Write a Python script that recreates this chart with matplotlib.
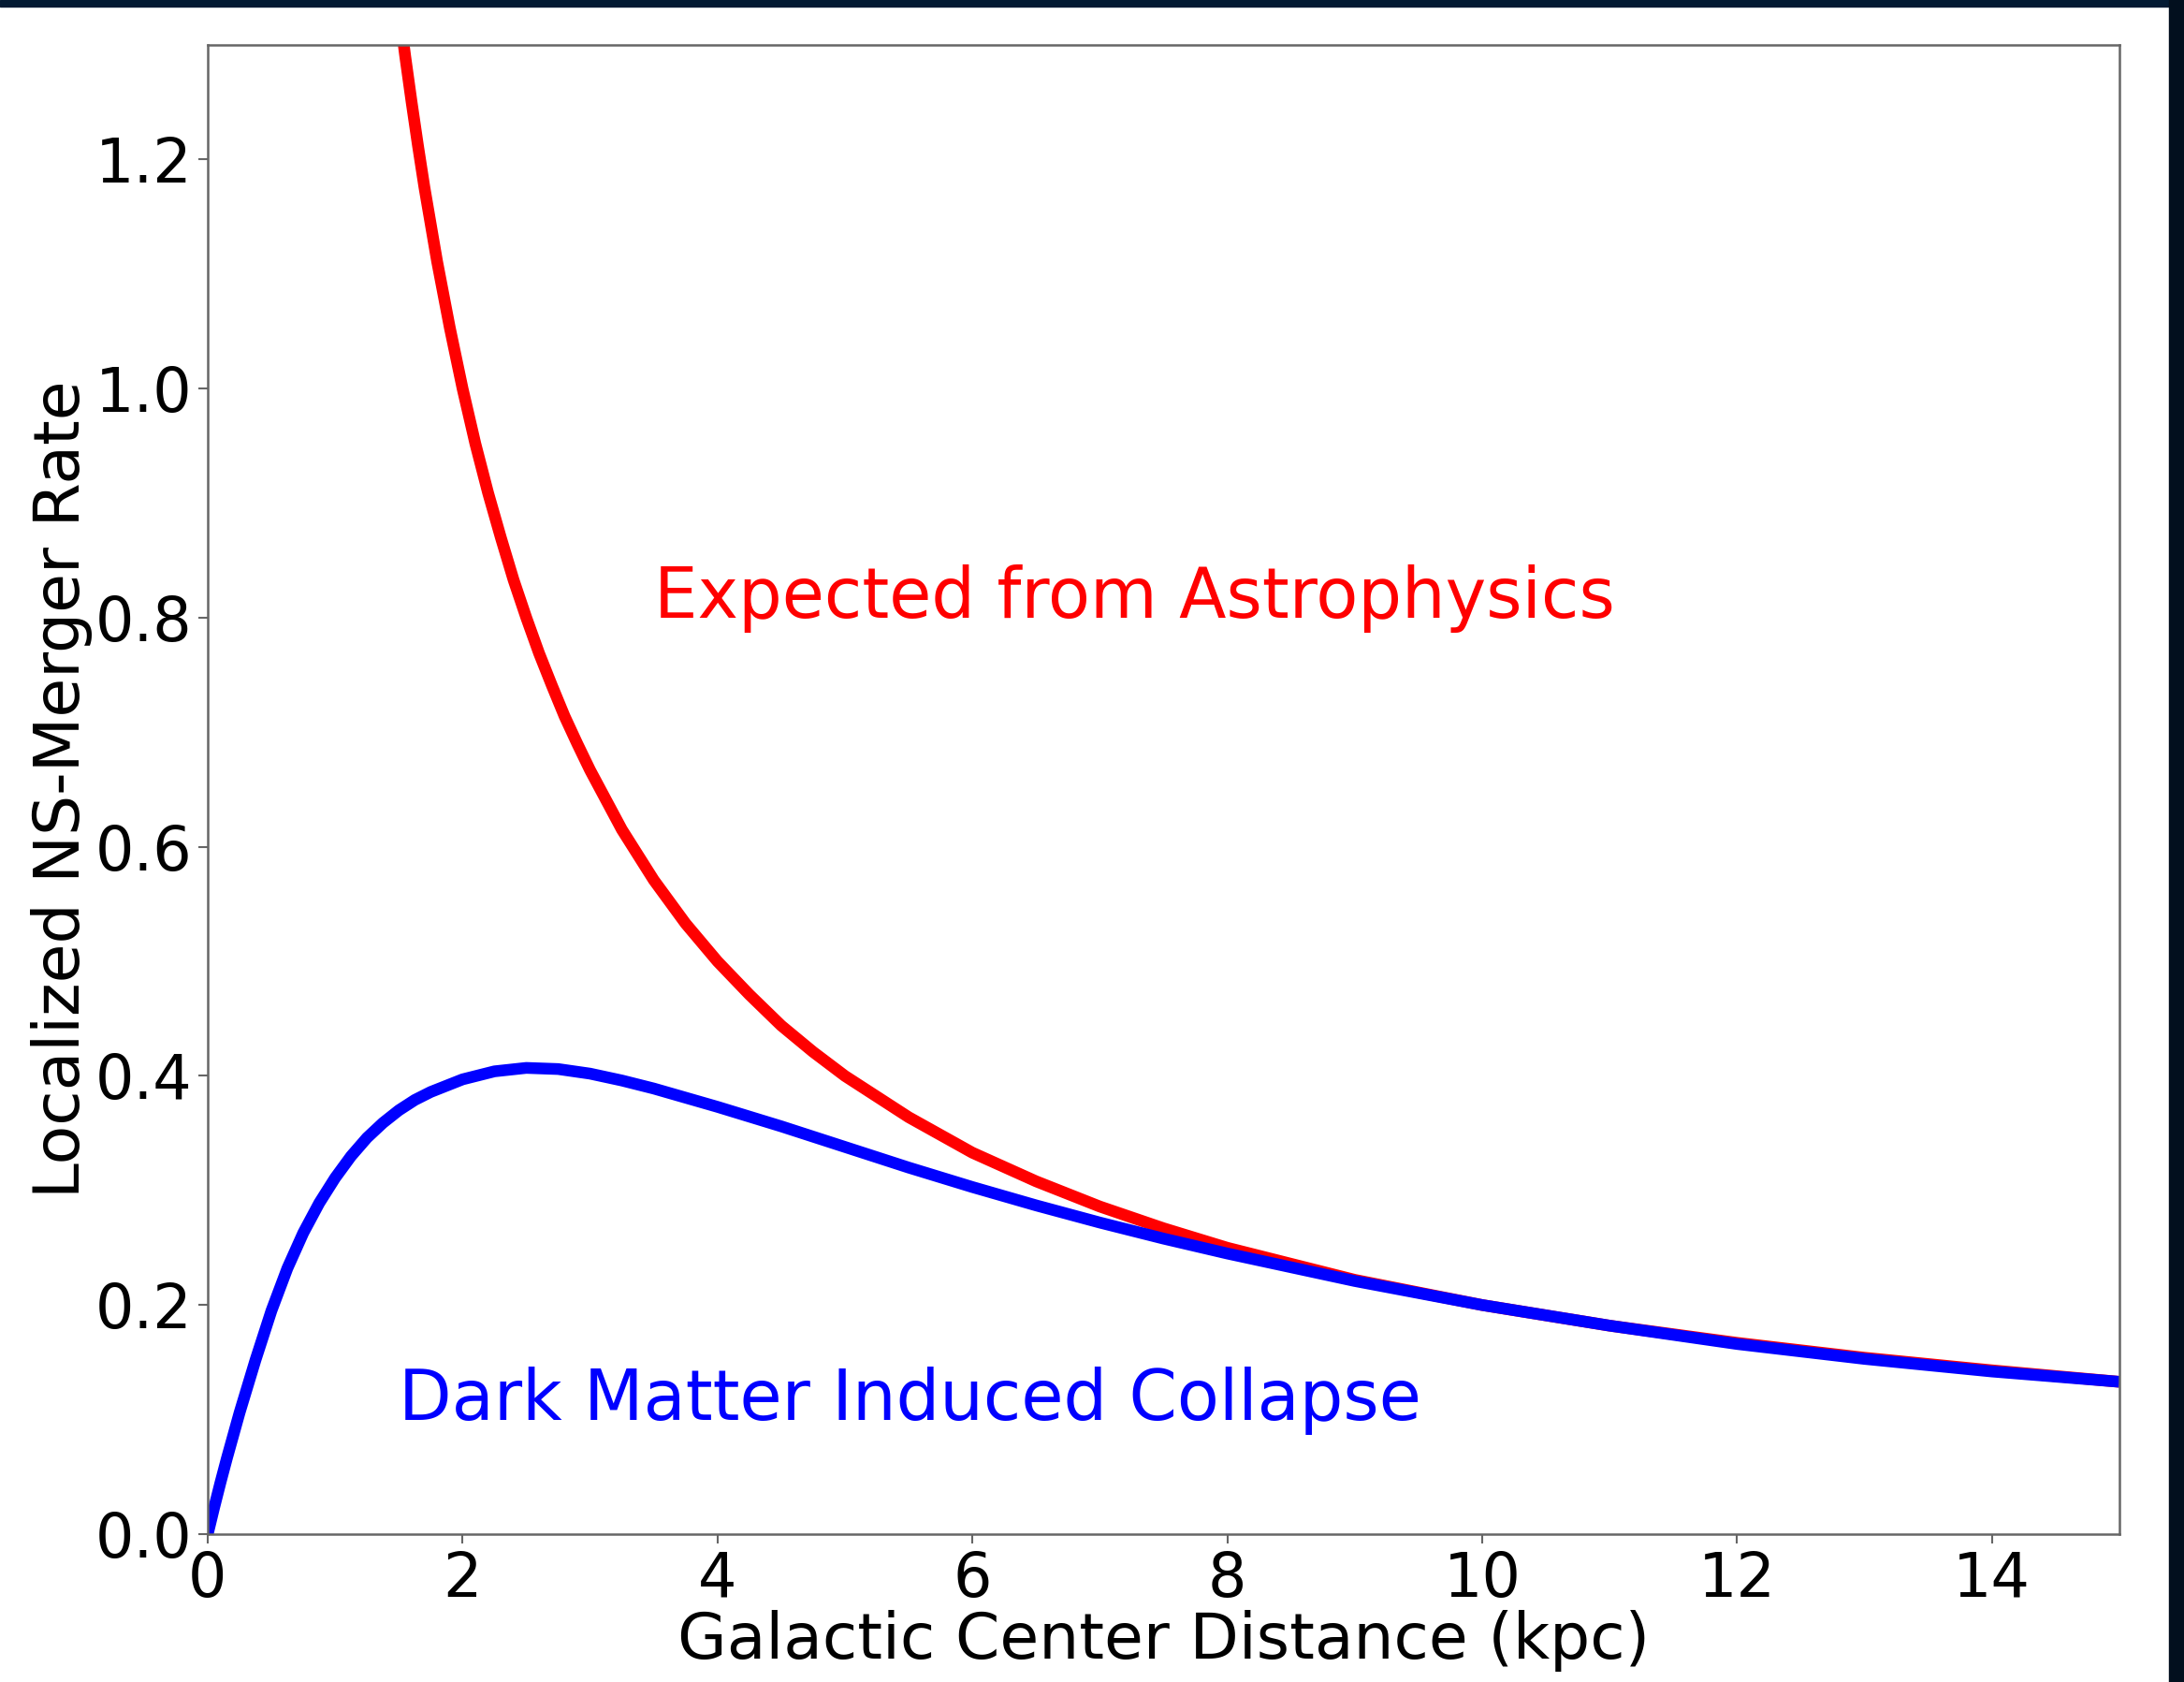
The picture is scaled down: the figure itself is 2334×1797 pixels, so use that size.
import matplotlib
matplotlib.use("Agg")
import matplotlib.pyplot as plt
from matplotlib.patches import Rectangle

# ---- data ----
r_astro = [1.45, 1.5, 1.55, 1.6, 1.65, 1.7, 1.8, 1.9, 2.0, 2.1, 2.2, 2.3, 2.4, 2.5,
           2.6, 2.7, 2.8, 2.9, 3.0, 3.25, 3.5, 3.75, 4.0, 4.25, 4.5, 4.75, 5.0,
           5.5, 6.0, 6.5, 7.0, 7.5, 8.0, 9.0, 10.0, 11.0, 12.0, 13.0, 14.0, 15.0]
rate_astro = [1.38, 1.333, 1.29, 1.25, 1.212, 1.176, 1.111, 1.053, 1.000, 0.952,
              0.909, 0.870, 0.833, 0.800, 0.769, 0.741, 0.714, 0.690, 0.667, 0.615,
              0.571, 0.533, 0.500, 0.471, 0.444, 0.421, 0.400, 0.364, 0.333, 0.308,
              0.286, 0.267, 0.250, 0.222, 0.200, 0.182, 0.167, 0.154, 0.143, 0.133]

r_dm = [0.0, 0.05, 0.1, 0.15, 0.25, 0.375, 0.5, 0.625, 0.75, 0.875, 1.0, 1.125,
        1.25, 1.375, 1.5, 1.625, 1.75, 2.0, 2.25, 2.5, 2.75, 3.0, 3.25, 3.5, 4.0,
        4.5, 5.0, 5.5, 6.0, 6.5, 7.0, 7.5, 8.0, 9.0, 10.0, 11.0, 12.0, 13.0,
        14.0, 15.0]
rate_dm = [0.0, 0.023, 0.045, 0.066, 0.106, 0.152, 0.195, 0.232, 0.263, 0.289,
           0.311, 0.330, 0.346, 0.359, 0.370, 0.379, 0.386, 0.397, 0.404, 0.407,
           0.406, 0.402, 0.396, 0.389, 0.373, 0.356, 0.338, 0.320, 0.303, 0.287,
           0.272, 0.258, 0.245, 0.221, 0.200, 0.182, 0.166, 0.153, 0.142, 0.133]

x_ticks = [0, 2, 4, 6, 8, 10, 12, 14]
y_ticks = [0.0, 0.2, 0.4, 0.6, 0.8, 1.0, 1.2]
label_astro = "Expected from Astrophysics"
label_dm = "Dark Matter Induced Collapse"
xlabel = "Galactic Center Distance (kpc)"
ylabel = "Localized NS-Merger Rate"

fig = plt.figure(figsize=(23.34, 17.97), dpi=100)
fig.patch.set_facecolor("white")
ax = fig.add_axes([0.0951, 0.0879, 0.9704 - 0.0951, 0.9733 - 0.0879])

ax.plot(r_astro, rate_astro, color="red", lw=9, solid_capstyle="butt",
        solid_joinstyle="round")
ax.plot(r_dm, rate_dm, color="blue", lw=9, solid_capstyle="butt",
        solid_joinstyle="round")

ax.set_xlim(0, 15)
ax.set_ylim(0, 1.3)
ax.set_xticks(x_ticks)
ax.set_yticks(y_ticks)
ax.set_xticklabels([str(t) for t in x_ticks])
ax.set_yticklabels([f"{t:.1f}" for t in y_ticks])
ax.tick_params(labelsize=47, length=7, width=1.5, color="#666666", pad=5)
for s in ax.spines.values():
    s.set_color("#666666")
    s.set_linewidth(1.8)

ax.set_xlabel(xlabel, fontsize=49, labelpad=0)
ax.set_ylabel(ylabel, fontsize=49, labelpad=2)

ax.text(3.5, 0.8, label_astro, color="red", fontsize=53)
ax.text(1.5, 0.1, label_dm, color="blue", fontsize=53)

# dark frame pieces from the screenshot
fig.patches.append(Rectangle((0, 1 - 7 / 1797), 1, 7 / 1797, transform=fig.transFigure,
                             color="#031a33", zorder=10))
fig.patches.append(Rectangle((1 - 16 / 2334, 0), 16 / 2334, 1, transform=fig.transFigure,
                             color="#020f1e", zorder=10))

fig.savefig("out.png", dpi=100)
